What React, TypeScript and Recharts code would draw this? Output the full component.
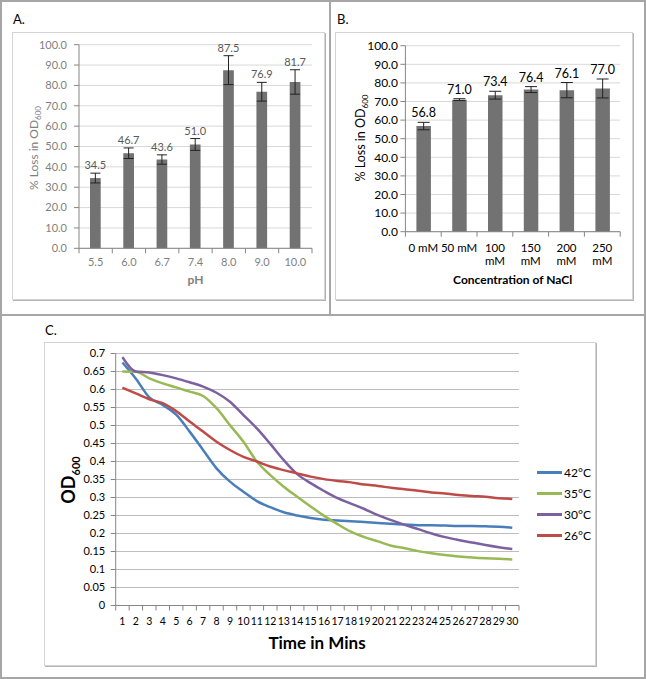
import React from 'react';
import { BarChart, Bar, LineChart, Line, XAxis, YAxis, CartesianGrid, ErrorBar, LabelList } from 'recharts';

const FONT = 'Lato, "Open Sans", sans-serif';
const AXIS = '#868686';

// A. effect of pH
const phLabels = ['5.5', '6.0', '6.7', '7.4', '8.0', '9.0', '10.0'];
const phLoss = [34.5, 46.7, 43.6, 51.0, 87.5, 76.9, 81.7];
const phErr = [2.4, 2.6, 2.3, 2.9, 7.1, 4.6, 6.0];

// B. effect of NaCl
const naclLabels = ['0 mM', '50 mM', '100 mM', '150 mM', '200 mM', '250 mM'];
const naclLoss = [56.8, 71.0, 73.4, 76.4, 76.1, 77.0];
const naclErr = [2.0, 0.5, 2.1, 1.6, 4.1, 5.1];

const pctTicks = [0, 10, 20, 30, 40, 50, 60, 70, 80, 90, 100];

// C. temperature time course
const minutes = [1, 2, 3, 4, 5, 6, 7, 8, 9, 10, 11, 12, 13, 14, 15, 16, 17, 18, 19, 20, 21, 22, 23, 24, 25, 26, 27, 28, 29, 30];
const od42 = [0.675, 0.63, 0.578, 0.557, 0.53, 0.483, 0.432, 0.381, 0.344, 0.316, 0.29, 0.273, 0.259, 0.25, 0.243, 0.238, 0.236, 0.234, 0.232, 0.229, 0.227, 0.225, 0.223, 0.223, 0.222, 0.221, 0.221, 0.22, 0.219, 0.216];
const od35 = [0.65, 0.649, 0.631, 0.617, 0.606, 0.594, 0.582, 0.548, 0.501, 0.455, 0.4, 0.362, 0.33, 0.302, 0.275, 0.249, 0.226, 0.205, 0.19, 0.178, 0.166, 0.159, 0.151, 0.145, 0.14, 0.136, 0.133, 0.131, 0.13, 0.128];
const od30 = [0.69, 0.65, 0.647, 0.64, 0.631, 0.62, 0.608, 0.591, 0.566, 0.529, 0.492, 0.449, 0.404, 0.365, 0.34, 0.318, 0.298, 0.283, 0.268, 0.251, 0.237, 0.224, 0.212, 0.2, 0.19, 0.182, 0.175, 0.168, 0.162, 0.157];
const od26 = [0.605, 0.589, 0.573, 0.562, 0.54, 0.511, 0.483, 0.455, 0.432, 0.413, 0.4, 0.386, 0.376, 0.367, 0.358, 0.351, 0.346, 0.342, 0.336, 0.332, 0.327, 0.323, 0.319, 0.314, 0.311, 0.307, 0.304, 0.302, 0.298, 0.296];
const odTicks = [0, 0.05, 0.1, 0.15, 0.2, 0.25, 0.3, 0.35, 0.4, 0.45, 0.5, 0.55, 0.6, 0.65, 0.7];

const series = [
  { key: 't42', name: '42°C', color: '#4a7ebb', values: od42 },
  { key: 't35', name: '35°C', color: '#98b954', values: od35 },
  { key: 't30', name: '30°C', color: '#7d60a0', values: od30 },
  { key: 't26', name: '26°C', color: '#be4b48', values: od26 },
];

const phData = phLabels.map((c, i) => ({ c, v: phLoss[i], err: phErr[i] }));
const naclData = naclLabels.map((c, i) => ({ c, v: naclLoss[i], err: naclErr[i] }));
const timeData = minutes.map((t, i) => {
  const row: any = { t };
  series.forEach((s) => (row[s.key] = s.values[i]));
  return row;
});

// x tick with Excel-style marks between categories
function BoundaryTick(props: any) {
  const { x, y, payload, index, band, last, gap, color, fontSize, split, lineH } = props;
  const axisY = y - gap;
  const txt = String(payload.value);
  const lines = split && txt.length > 5 ? txt.split(' ') : [txt];
  return (
    <g>
      <line x1={x - band / 2} x2={x - band / 2} y1={axisY} y2={axisY + 5} stroke={AXIS} />
      {index === last && <line x1={x + band / 2} x2={x + band / 2} y1={axisY} y2={axisY + 5} stroke={AXIS} />}
      {lines.map((l, i) => (
        <text
          key={i}
          x={x}
          y={y + i * (lineH || 0)}
          dy="0.71em"
          textAnchor="middle"
          fill={color}
          fontSize={fontSize}
          fontFamily={FONT}
        >
          {l}
        </text>
      ))}
    </g>
  );
}

// value label placed just above the error bar cap
function makeValueLabel(errs: number[], vals: number[], color: string, fontSize: number, lift: number) {
  return (p: any) => {
    const vb = p.viewBox || p;
    const { x, y, width, height } = vb;
    const idx = p.index ?? vals.indexOf(Number(p.value));
    const pxPerUnit = height / vals[idx];
    const top = y - errs[idx] * pxPerUnit;
    return (
      <text x={x + width / 2} y={top - lift} textAnchor="middle" fill={color} fontSize={fontSize} fontFamily={FONT}>
        {vals[idx].toFixed(1)}
      </text>
    );
  };
}

const abs = (l: number, t: number, extra: any = {}) => ({ position: 'absolute' as const, left: l, top: t, ...extra });

function VTitle({ cx, cy, children, style }: any) {
  return (
    <div style={abs(cx, cy, { transform: 'translate(-50%, -50%) rotate(-90deg)', whiteSpace: 'nowrap', lineHeight: 1, ...style })}>
      {children}
    </div>
  );
}

function HTitle({ cx, cy, children, style }: any) {
  return (
    <div style={abs(cx, cy, { transform: 'translate(-50%, -50%)', whiteSpace: 'nowrap', lineHeight: 1, ...style })}>
      {children}
    </div>
  );
}

export default function App() {
  const box = { border: '1px solid #d4d4d4', boxShadow: '1px 1px 0 #b4b4b4', boxSizing: 'border-box' as const };
  return (
    <div style={{ position: 'absolute', left: 0, top: 0, width: 646, height: 679, background: '#fff', fontFamily: FONT }}>
      {/* figure frame */}
      <div style={abs(0, 0, { width: 646, height: 679, border: '2px solid #a6a6a6', boxSizing: 'border-box' })} />
      <div style={abs(0, 314, { width: 646, height: 2, background: '#a6a6a6' })} />
      <div style={abs(329, 0, { width: 2, height: 315, background: '#a6a6a6' })} />

      <div style={abs(12, 32, { width: 313, height: 268, ...box })} />
      <div style={abs(335, 32, { width: 298, height: 268, ...box })} />
      <div style={abs(44, 342, { width: 552, height: 324, ...box })} />

      <div style={abs(13, 11, { fontSize: 13, color: '#000' })}>A.</div>
      <div style={abs(337, 11, { fontSize: 13, color: '#000' })}>B.</div>
      <div style={abs(45, 322, { fontSize: 13, color: '#000' })}>C.</div>

      {/* A */}
      <div style={abs(12, 32)}>
        <BarChart width={313} height={268} data={phData} margin={{ top: 12.7, right: 13, bottom: 11.7, left: 0 }}>
          <CartesianGrid vertical={false} stroke="#d9d9d9" />
          <XAxis
            dataKey="c"
            height={40}
            interval={0}
            stroke={AXIS}
            tickLine={false}
            tickSize={6}
            tickMargin={4}
            tick={(p: any) => <BoundaryTick {...p} band={233 / 7} last={6} gap={10} color="#7f7f7f" fontSize={11} />}
          />
          <YAxis
            width={67}
            domain={[0, 100]}
            ticks={pctTicks}
            interval={0}
            stroke={AXIS}
            tickSize={5}
            tickMargin={7}
            tick={{ fill: '#7f7f7f', fontSize: 11, fontFamily: FONT }}
            tickFormatter={(v: number) => v.toFixed(1)}
          />
          <Bar dataKey="v" fill="#727272" barSize={10.7} isAnimationActive={false}>
            <ErrorBar dataKey="err" width={5} stroke="#222" strokeWidth={1} isAnimationActive={false} />
            <LabelList dataKey="v" content={makeValueLabel(phErr, phLoss, '#595959', 11, 4)} />
          </Bar>
        </BarChart>
      </div>
      <VTitle cx={35} cy={148} style={{ fontSize: 12, color: '#7f7f7f' }}>
        % Loss in OD<sub style={{ fontSize: 8 }}>600</sub>
      </VTitle>
      <HTitle cx={195.5} cy={280} style={{ fontSize: 12, fontWeight: 700, color: '#7f7f7f' }}>pH</HTitle>

      {/* B */}
      <div style={abs(335, 32)}>
        <BarChart width={298} height={268} data={naclData} margin={{ top: 13.7, right: 12.8, bottom: 18.3, left: 0 }}>
          <CartesianGrid vertical={false} stroke="#d9d9d9" />
          <XAxis
            dataKey="c"
            height={50}
            interval={0}
            stroke={AXIS}
            tickLine={false}
            tickSize={6}
            tickMargin={6}
            tick={(p: any) => (
              <BoundaryTick {...p} band={214.8 / 6} last={5} gap={12} color="#000" fontSize={11.5} split lineH={13} />
            )}
          />
          <YAxis
            width={70.4}
            domain={[0, 100]}
            ticks={pctTicks}
            interval={0}
            stroke={AXIS}
            tickSize={5}
            tickMargin={2.5}
            tick={{ fill: '#000', fontSize: 12, fontFamily: FONT }}
            tickFormatter={(v: number) => v.toFixed(1)}
          />
          <Bar dataKey="v" fill="#727272" barSize={14.5} isAnimationActive={false}>
            <ErrorBar dataKey="err" width={6} stroke="#222" strokeWidth={1} isAnimationActive={false} />
            <LabelList dataKey="v" content={makeValueLabel(naclErr, naclLoss, '#000', 12.5, 5)} />
          </Bar>
        </BarChart>
      </div>
      <VTitle cx={362} cy={138} style={{ fontSize: 12.5, color: '#000' }}>
        % Loss in OD<sub style={{ fontSize: 8 }}>600</sub>
      </VTitle>
      <HTitle cx={512.7} cy={280} style={{ fontSize: 12, fontWeight: 700, color: '#000' }}>Concentration of NaCl</HTitle>

      {/* C */}
      <div style={abs(44, 342)}>
        <LineChart width={552} height={324} data={timeData} margin={{ top: 11.5, right: 77, bottom: 30.5, left: 0 }}>
          <CartesianGrid vertical={false} stroke="#bdbdbd" />
          <XAxis
            dataKey="t"
            height={30}
            interval={0}
            stroke={AXIS}
            tickLine={false}
            tickSize={6}
            tickMargin={5.6}
            padding={{ left: 403.3 / 60, right: 403.3 / 60 }}
            tick={(p: any) => <BoundaryTick {...p} band={403.3 / 30} last={29} gap={11.6} color="#000" fontSize={10.5} />}
          />
          <YAxis
            width={71.7}
            domain={[0, 0.7]}
            ticks={odTicks}
            interval={0}
            stroke={AXIS}
            tickSize={5}
            tickMargin={5.5}
            tick={{ fill: '#000', fontSize: 11, fontFamily: FONT }}
            tickFormatter={(v: number) => String(v)}
          />
          {series.map((s) => (
            <Line
              key={s.key}
              type="monotone"
              dataKey={s.key}
              name={s.name}
              stroke={s.color}
              strokeWidth={2.5}
              dot={false}
              isAnimationActive={false}
            />
          ))}
        </LineChart>
      </div>
      <VTitle cx={70} cy={480} style={{ fontSize: 18, fontWeight: 700, color: '#000' }}>
        OD<sub style={{ fontSize: 11 }}>600</sub>
      </VTitle>
      <HTitle cx={317} cy={642} style={{ fontSize: 17, fontWeight: 700, color: '#000' }}>Time in Mins</HTitle>

      {/* legend C */}
      {series.map((s, i) => (
        <div key={s.key} style={abs(537, 464 + i * 21.3, { display: 'flex', alignItems: 'center', height: 16 })}>
          <div style={{ width: 25, height: 3, background: s.color }} />
          <span style={{ fontSize: 12, color: '#000', marginLeft: 2 }}>{s.name}</span>
        </div>
      ))}
    </div>
  );
}
